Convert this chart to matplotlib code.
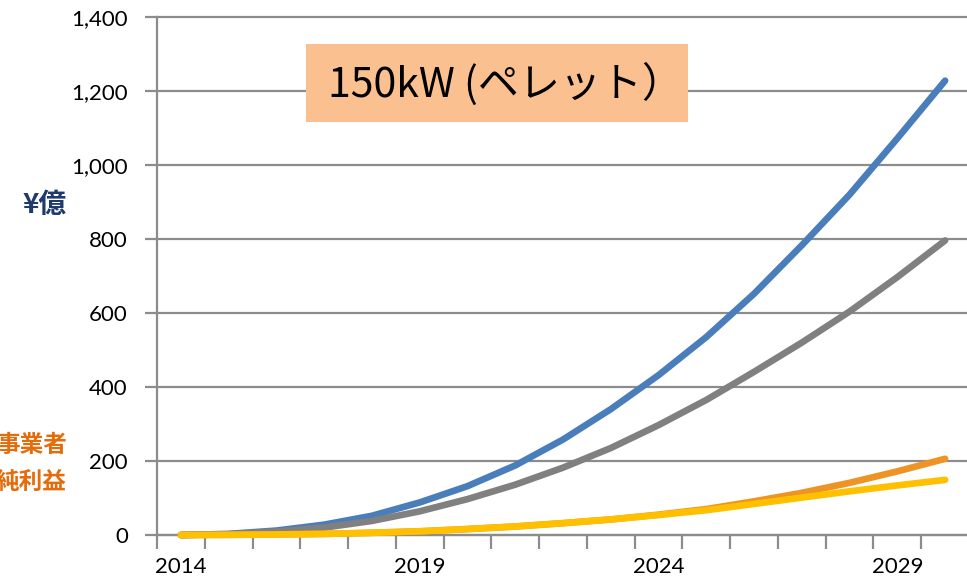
import matplotlib.pyplot as plt
import numpy as np
from matplotlib.patches import Rectangle
from matplotlib.ticker import FuncFormatter

# yearly values, 2014-2030 (¥100m)
years = list(range(2014, 2031))
blue_vals = [0, 3, 12, 28, 52, 88, 132, 188, 258, 340, 432, 535, 652, 783, 920, 1072, 1228]
gray_vals = [0, 2, 9, 20, 38, 64, 97, 136, 182, 235, 297, 365, 441, 520, 604, 697, 796]
orange_vals = [0, 0.5, 1.5, 3, 6, 10, 16, 23, 32, 42, 55, 70, 91, 114, 141, 172, 206]
yellow_vals = [0, 0.5, 1.5, 3, 6, 10, 16, 23, 32, 42, 54, 67, 84, 101, 118, 134, 149]
year_labels = ['2014', '2019', '2024', '2029']

W, H = 967, 582
fig = plt.figure(figsize=(W / 100, H / 100), dpi=100)
ax = fig.add_axes([157 / W, (H - 535) / H, (969 - 157) / W, (535 - 17) / H])

x = np.arange(len(years))
series = [(blue_vals, '#4A7EBB'), (gray_vals, '#808080'),
          (orange_vals, '#EE9425'), (yellow_vals, '#FFC000')]
for i, (vals, col) in enumerate(series):
    ax.plot(x, vals, color=col, lw=4.8, solid_capstyle='round',
            solid_joinstyle='round', clip_on=False, zorder=3 + i)

grid_col = '#8C8C8C'
ax.set_xlim(-0.5, len(years) - 0.5)
ax.set_ylim(0, 1400)
ax.set_yticks(np.arange(0, 1401, 200))
ax.yaxis.set_major_formatter(FuncFormatter(lambda v, p: f'{int(v):,}'))
ax.yaxis.grid(True, color=grid_col, lw=1.6)
for gl in ax.get_ygridlines():
    gl.set_clip_on(False)
ax.set_axisbelow(True)

ax.set_xticks([years.index(int(y)) for y in year_labels])
ax.set_xticklabels(year_labels)
ax.set_xticks(np.arange(-0.5, len(years), 1), minor=True)
ax.tick_params(axis='x', which='major', length=0, pad=16, labelsize=16)
ax.tick_params(axis='x', which='minor', length=10, width=1.6, color=grid_col)
ax.tick_params(axis='y', length=9, width=1.6, color=grid_col, pad=12, labelsize=16)
for lab in ax.get_xticklabels() + ax.get_yticklabels():
    lab.set_family('Lato')

for s in ['top', 'right']:
    ax.spines[s].set_visible(False)
for s in ['left', 'bottom']:
    ax.spines[s].set_color(grid_col)
    ax.spines[s].set_linewidth(1.6)

# title box
fig.add_artist(Rectangle((306 / W, 1 - 122 / H), (688 - 306) / W, (122 - 44) / H,
                         transform=fig.transFigure, facecolor='#FAC090',
                         edgecolor='none', zorder=10))
fig.text(328 / W, 1 - 84 / H, '150kW (ペレット）', fontsize=29.5,
         family=['Noto Sans CJK JP', 'DejaVu Sans'], ha='left', va='center', zorder=11)

fig.text(67 / W, 1 - 205 / H, '¥億', fontsize=20, fontweight='bold', color='#1F3A6E',
         family=['Noto Sans CJK JP', 'DejaVu Sans'], ha='right', va='center')
fig.text(67 / W, 1 - 445 / H, '事業者', fontsize=17, fontweight='bold', color='#E46C0A',
         family=['Noto Sans CJK JP', 'DejaVu Sans'], ha='right', va='center')
fig.text(67 / W, 1 - 482 / H, '純利益', fontsize=17, fontweight='bold', color='#E46C0A',
         family=['Noto Sans CJK JP', 'DejaVu Sans'], ha='right', va='center')

fig.savefig('out.png', dpi=100)
